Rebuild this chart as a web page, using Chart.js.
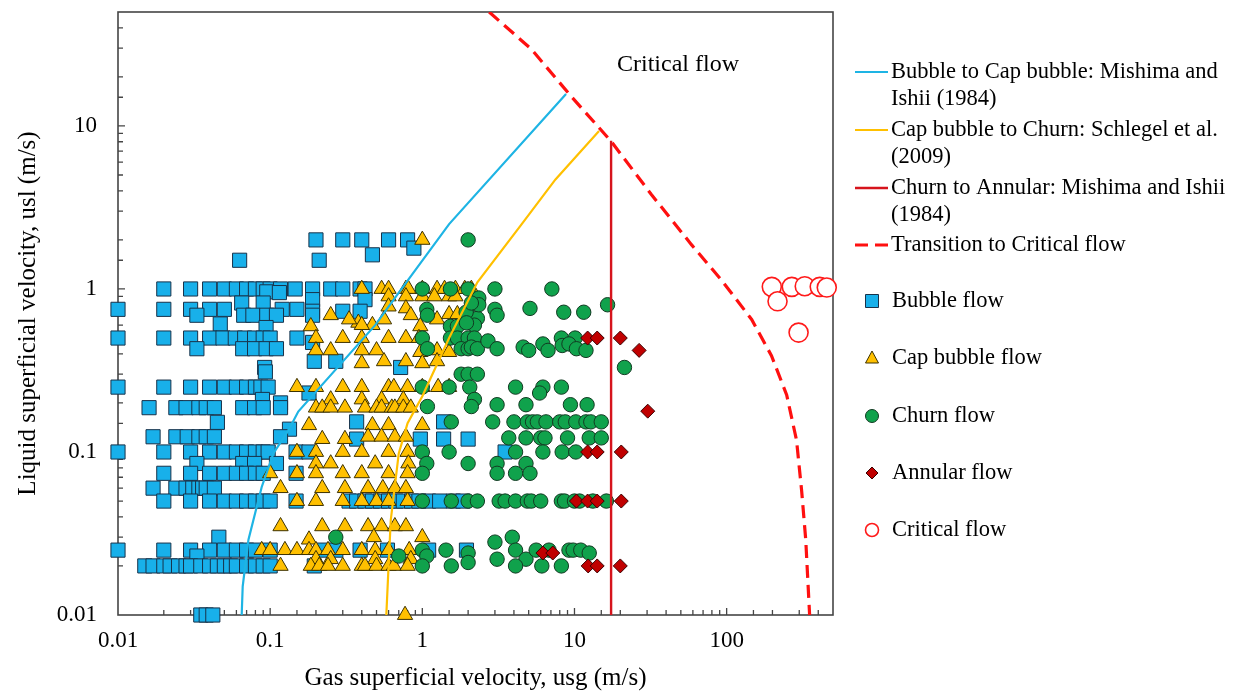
<!DOCTYPE html>
<html>
<head>
<meta charset="utf-8">
<script src="https://cdn.jsdelivr.net/npm/chart.js@4.4.0/dist/chart.umd.min.js"></script>
<style>
  html, body { margin: 0; padding: 0; background: #fff; }
  canvas { display: block; }
</style>
</head>
<body>
<canvas id="flowMap" width="1238" height="693"></canvas>
<script>
// observed flow regimes, [usg, usl] in m/s
const bubbleFlow = [
  [0.2,2],[0.3,2],[0.4,2],[0.6,2],[0.8,2],
  [0.063,1.5],[0.21,1.5],[0.47,1.62],[0.88,1.78],
  [0.02,1],[0.03,1],[0.04,1],[0.05,1],[0.06,1],[0.07,1],[0.08,1],[0.09,1],[0.1,1],[0.117,1],[0.146,1],[0.19,1],[0.25,1],[0.3,1],[0.39,1],[0.42,1],
  [0.095,0.96],[0.115,0.95],[0.19,0.86],[0.42,0.86],
  [0.01,0.75],[0.02,0.75],[0.03,0.75],[0.04,0.75],[0.05,0.75],[0.065,0.82],[0.09,0.82],[0.12,0.75],[0.15,0.75],[0.19,0.73],[0.3,0.73],[0.39,0.73],
  [0.033,0.69],[0.067,0.69],[0.077,0.69],[0.095,0.69],[0.11,0.69],[0.19,0.69],
  [0.047,0.61],[0.094,0.58],
  [0.01,0.5],[0.02,0.5],[0.03,0.5],[0.04,0.5],[0.049,0.5],[0.059,0.5],[0.068,0.5],[0.079,0.5],[0.09,0.5],[0.1,0.5],[0.15,0.5],[0.19,0.47],
  [0.033,0.43],[0.066,0.43],[0.079,0.43],[0.094,0.43],[0.11,0.43],
  [0.092,0.33],[0.093,0.31],[0.195,0.36],[0.27,0.36],[0.72,0.33],
  [0.01,0.25],[0.02,0.25],[0.03,0.25],[0.04,0.25],[0.05,0.25],[0.06,0.25],[0.07,0.25],[0.08,0.25],[0.087,0.25],[0.097,0.25],[0.18,0.23],
  [0.089,0.21],[0.117,0.2],
  [0.016,0.187],[0.024,0.187],[0.028,0.187],[0.034,0.187],[0.038,0.187],[0.043,0.187],[0.066,0.187],[0.079,0.187],[0.09,0.187],[0.117,0.187],
  [0.045,0.152],[0.134,0.138],[0.37,0.153],[1.38,0.153],
  [0.017,0.124],[0.024,0.124],[0.0285,0.124],[0.034,0.124],[0.038,0.124],[0.043,0.124],[0.117,0.124],[0.37,0.12],[0.97,0.12],[1.38,0.12],[2.0,0.12],
  [0.01,0.1],[0.02,0.1],[0.03,0.1],[0.04,0.1],[0.05,0.1],[0.06,0.1],[0.07,0.1],[0.08,0.1],[0.09,0.1],[0.097,0.1],[0.148,0.1],[0.18,0.1],[3.5,0.1],
  [0.033,0.085],[0.066,0.085],[0.079,0.085],[0.11,0.085],
  [0.02,0.074],[0.03,0.074],[0.04,0.074],[0.05,0.074],[0.06,0.074],[0.07,0.074],[0.08,0.074],[0.09,0.074],[0.148,0.074],
  [0.017,0.06],[0.024,0.06],[0.028,0.06],[0.031,0.06],[0.034,0.06],[0.036,0.06],[0.038,0.06],[0.043,0.06],
  [0.02,0.05],[0.03,0.05],[0.04,0.05],[0.05,0.05],[0.06,0.05],[0.07,0.05],[0.08,0.05],[0.09,0.05],[0.1,0.05],[0.148,0.05],
  [0.33,0.05],[0.37,0.05],[0.42,0.05],[0.47,0.05],[0.53,0.05],[0.6,0.05],[0.67,0.05],[0.75,0.05],[0.85,0.05],[0.95,0.05],[1.1,0.05],[1.3,0.05],[1.6,0.05],[1.85,0.05],
  [0.046,0.03],
  [0.01,0.025],[0.02,0.025],[0.03,0.025],[0.04,0.025],[0.05,0.025],[0.06,0.025],[0.07,0.025],[0.08,0.025],[0.033,0.023],[0.1,0.025],[0.22,0.025],[0.27,0.025],[0.39,0.025],[0.59,0.025],[1.1,0.025],[1.95,0.025],
  [0.015,0.02],[0.017,0.02],[0.02,0.02],[0.022,0.02],[0.025,0.02],[0.028,0.02],[0.03,0.02],[0.035,0.02],[0.04,0.02],[0.045,0.02],[0.05,0.02],[0.055,0.02],[0.06,0.02],[0.07,0.02],[0.08,0.02],[0.09,0.02],[0.1,0.02],[0.195,0.02],
  [0.035,0.01],[0.038,0.01],[0.042,0.01]
];

const capBubbleFlow = [
  [1.0,2.0],
  [0.4,1],[0.54,1],[0.6,1],[0.78,1],[0.81,1],[1.0,1],[1.25,1],[1.4,1],[1.65,1],[1.9,1],[2.1,1],
  [0.6,0.9],[0.78,0.9],[1.0,0.9],[1.2,0.9],[1.5,0.9],[1.65,0.9],
  [0.6,0.78],[0.78,0.76],[0.25,0.69],[0.84,0.69],[1.5,0.7],[1.7,0.7],[0.38,0.62],[0.47,0.6],[0.56,0.65],[0.97,0.59],[1.25,0.65],[0.185,0.59],[0.4,0.6],[0.33,0.65],
  [0.2,0.5],[0.3,0.5],[0.4,0.5],[0.6,0.5],[0.78,0.5],[0.95,0.5],
  [0.2,0.42],[0.25,0.42],[0.4,0.42],[0.5,0.42],[0.97,0.41],[1.25,0.42],[1.5,0.41],
  [0.4,0.35],[0.56,0.36],[0.78,0.36],[1.0,0.35],[1.25,0.36],
  [0.15,0.25],[0.2,0.25],[0.3,0.25],[0.4,0.25],[0.6,0.25],[0.65,0.25],[0.8,0.25],[1.0,0.25],[1.27,0.25],[1.5,0.25],
  [0.25,0.21],[0.4,0.21],[0.54,0.21],[0.75,0.21],
  [0.2,0.187],[0.22,0.187],[0.25,0.187],[0.31,0.187],[0.42,0.187],[0.5,0.187],[0.54,0.187],[0.63,0.187],[0.66,0.187],[0.75,0.187],[0.84,0.187],
  [0.18,0.146],[0.47,0.146],[0.6,0.146],[1.0,0.146],
  [0.22,0.12],[0.31,0.12],[0.44,0.124],[0.54,0.124],[0.66,0.124],[0.78,0.124],
  [0.15,0.1],[0.2,0.1],[0.3,0.1],[0.4,0.1],[0.6,0.1],[0.8,0.1],
  [0.2,0.085],[0.25,0.085],[0.49,0.085],[0.81,0.085],
  [0.1,0.074],[0.15,0.074],[0.2,0.074],[0.3,0.074],[0.4,0.074],[0.6,0.074],[0.8,0.074],
  [0.117,0.06],[0.22,0.06],[0.31,0.06],[0.44,0.06],[0.55,0.06],[0.66,0.06],[0.78,0.06],
  [0.15,0.05],[0.2,0.05],[0.3,0.05],[0.4,0.05],[0.5,0.05],[0.6,0.05],[0.8,0.05],
  [0.117,0.035],[0.22,0.035],[0.31,0.035],[0.44,0.035],[0.54,0.035],[0.66,0.035],[0.78,0.035],
  [0.18,0.029],[0.48,0.03],[1.0,0.03],
  [0.088,0.025],[0.1,0.025],[0.125,0.025],[0.15,0.025],[0.18,0.025],[0.2,0.025],[0.24,0.025],[0.3,0.025],[0.4,0.025],[0.49,0.025],[0.6,0.025],[0.82,0.025],
  [0.2,0.022],[0.25,0.022],[0.49,0.022],[0.84,0.022],
  [0.117,0.02],[0.185,0.02],[0.21,0.02],[0.24,0.02],[0.3,0.02],[0.4,0.02],[0.42,0.02],[0.5,0.02],[0.6,0.02],[0.65,0.02],[0.8,0.02],
  [0.77,0.01]
];

const churnFlow = [
  [2.0,2.0],
  [1.0,1],[1.53,1],[2.0,1],[3.0,1],[7.1,1],
  [2.2,0.84],[2.35,0.88],[1.07,0.75],[1.08,0.69],[2.0,0.69],[2.3,0.66],[2.35,0.8],[1.94,0.72],[2.1,0.82],[3.0,0.75],[3.1,0.69],
  [5.1,0.76],[8.5,0.72],[11.5,0.72],[16.5,0.8],[1.53,0.59],[1.7,0.59],[2.2,0.6],[1.95,0.62],
  [1.0,0.5],[1.53,0.5],[1.7,0.5],[2.0,0.5],[2.2,0.5],[8.2,0.5],[10.1,0.5],
  [1.08,0.43],[1.8,0.43],[2.0,0.43],[2.1,0.44],[2.3,0.43],[2.7,0.48],[3.1,0.43],[4.6,0.44],[5.0,0.42],[6.2,0.46],[6.7,0.42],[8.3,0.45],[9.2,0.46],[10.3,0.43],[11.9,0.42],
  [1.8,0.3],[2.0,0.3],[2.3,0.3],[21.3,0.33],
  [1.0,0.25],[1.5,0.25],[2.05,0.25],[4.1,0.25],[6.2,0.25],[8.2,0.25],[2.2,0.21],[5.9,0.23],
  [1.08,0.19],[2.1,0.19],[3.1,0.195],[4.8,0.195],[9.4,0.195],[12.1,0.195],
  [1.55,0.153],[2.9,0.153],[4.0,0.153],[4.9,0.153],[5.3,0.153],[5.7,0.153],[6.5,0.153],[8.0,0.153],[8.7,0.153],[10.2,0.153],[11.9,0.153],[12.8,0.153],[15,0.153],
  [3.7,0.122],[4.8,0.122],[6.0,0.122],[6.4,0.122],[9.0,0.122],[12.5,0.122],[15,0.122],
  [1.0,0.1],[1.5,0.1],[4.1,0.1],[6.2,0.1],[8.3,0.1],[10.2,0.1],
  [1.07,0.085],[2.0,0.085],[3.1,0.085],[4.8,0.085],
  [1.0,0.074],[3.1,0.074],[4.1,0.074],[5.1,0.074],
  [1.0,0.05],[1.55,0.05],[2.0,0.05],[2.3,0.05],[3.2,0.05],[3.5,0.05],[4.1,0.05],[4.9,0.05],[5.2,0.05],[6.0,0.05],[8.2,0.05],[8.6,0.05],[10,0.05],[10.8,0.05],[13.2,0.05],[16.2,0.05],
  [0.27,0.03],[0.7,0.023],[1.0,0.025],[1.07,0.023],[1.43,0.025],[2.0,0.024],[3.0,0.028],[3.1,0.022],[3.9,0.03],[4.1,0.025],[4.8,0.022],[5.6,0.025],[6.8,0.025],[9.2,0.025],[9.8,0.025],[11,0.025],[12.5,0.024],
  [1.0,0.02],[1.55,0.02],[2.0,0.021],[4.1,0.02],[6.1,0.02],[8.2,0.02]
];

const annularFlow = [
  [12.2,0.5],[14.1,0.5],[20.0,0.5],[26.6,0.42],[30.3,0.178],
  [12.2,0.1],[14.1,0.1],[20.3,0.1],
  [10.3,0.05],[12.2,0.05],[14.1,0.05],[20.3,0.05],
  [6.2,0.024],[7.2,0.024],[12.3,0.02],[14.1,0.02],[20.0,0.02]
];

const criticalFlow = [
  [198,1.03],[216,0.84],[268,1.03],[326,1.04],[409,1.03],[455,1.02],[297,0.54]
];

// transition boundaries, [usg, usl]
const bubbleToCap = [
  [0.065,0.01],[0.066,0.015],[0.072,0.029],[0.088,0.061],[0.105,0.098],[0.132,0.136],
  [0.153,0.177],[0.49,0.6],[0.73,1.0],[1.5,2.5],[8.8,15.7]
];
const capToChurn = [
  [0.58,0.01],[0.6,0.02],[0.62,0.038],[0.7,0.098],[0.8,0.15],[1.0,0.22],[1.5,0.5],
  [2.3,1.1],[4.5,2.5],[7.5,4.7],[14.5,9.3]
];
const churnToAnnular = [[17.4,0.01],[17.4,8.1]];
const toCritical = [
  [2.75,50],[5.2,29.6],[9.5,15.2],[17.4,8.05],[32,3.8],[58.7,1.87],[92,1.14],[146,0.65],
  [197,0.39],[248,0.224],[288,0.118],[311,0.058],[331,0.029],[351,0.01]
];

const xTickValues = [0.01, 0.1, 1, 10, 100];
const xTickLabels = ['0.01', '0.1', '1', '10', '100'];
const yTickValues = [0.01, 0.1, 1, 10];
const yTickLabels = ['0.01', '0.1', '1', '10'];

const lineLegend = [
  ['Bubble to Cap bubble: Mishima and', 'Ishii (1984)'],
  ['Cap bubble to Churn: Schlegel et al.', '(2009)'],
  ['Churn to Annular: Mishima and Ishii', '(1984)'],
  ['Transition to Critical flow']
];
const pointLegend = ['Bubble flow', 'Cap bubble flow', 'Churn flow', 'Annular flow', 'Critical flow'];

const SERIF = '"Liberation Serif", "Times New Roman", serif';
const pts = arr => arr.map(([x, y]) => ({x, y}));

function tickLabel(values, labels) {
  return function (v) {
    for (let i = 0; i < values.length; i++) {
      if (Math.abs(Math.log10(v) - Math.log10(values[i])) < 1e-6) return labels[i];
    }
    return '';
  };
}
const isDecade = v => Math.abs(Math.log10(v) - Math.round(Math.log10(v))) < 1e-6;

// box and inward tick marks, drawn under the markers
const frameAndTicks = {
  id: 'frameAndTicks',
  beforeDatasetsDraw(chart) {
    const {ctx, chartArea: a, scales: {x, y}} = chart;
    ctx.save();
    ctx.strokeStyle = '#454545';
    ctx.lineWidth = 1.3;
    ctx.beginPath();
    x.ticks.forEach(t => {
      const px = x.getPixelForValue(t.value);
      if (px <= a.left + 1 || px >= a.right - 1) return;
      const len = isDecade(t.value) ? 7 : 5;
      ctx.moveTo(px, a.bottom);
      ctx.lineTo(px, a.bottom - len);
    });
    y.ticks.forEach(t => {
      const py = y.getPixelForValue(t.value);
      if (py <= a.top + 1 || py >= a.bottom - 1) return;
      const len = isDecade(t.value) ? 7 : 5;
      ctx.moveTo(a.left, py);
      ctx.lineTo(a.left + len, py);
    });
    ctx.stroke();
    ctx.lineWidth = 1.6;
    ctx.strokeRect(a.left, a.top, a.right - a.left, a.bottom - a.top);
    ctx.restore();
  }
};

function marker(ctx, style, x, y, fill, stroke) {
  ctx.save();
  ctx.fillStyle = fill;
  ctx.strokeStyle = stroke;
  ctx.lineWidth = style === 'circleOpen' ? 1.6 : 1;
  ctx.beginPath();
  if (style === 'rect') {
    ctx.rect(x - 6.5, y - 6.5, 13, 13);
  } else if (style === 'triangle') {
    ctx.moveTo(x, y - 7);
    ctx.lineTo(x + 6.5, y + 5);
    ctx.lineTo(x - 6.5, y + 5);
    ctx.closePath();
  } else if (style === 'rectRot') {
    ctx.moveTo(x, y - 6);
    ctx.lineTo(x + 6, y);
    ctx.lineTo(x, y + 6);
    ctx.lineTo(x - 6, y);
    ctx.closePath();
  } else {
    ctx.arc(x, y, 6.5, 0, Math.PI * 2);
  }
  ctx.fill();
  ctx.stroke();
  ctx.restore();
}

const sideLegend = {
  id: 'sideLegend',
  afterDraw(chart) {
    const ctx = chart.ctx;
    const ds = chart.data.datasets;
    ctx.save();
    ctx.font = '22.5px ' + SERIF;
    ctx.fillStyle = '#000';
    ctx.textBaseline = 'middle';
    ctx.textAlign = 'left';

    const rows = [72, 130, 188, 245];
    lineLegend.forEach((lines, i) => {
      const d = ds[i];
      ctx.save();
      ctx.strokeStyle = d.borderColor;
      ctx.lineWidth = d.borderWidth;
      ctx.setLineDash(d.borderDash || []);
      ctx.beginPath();
      ctx.moveTo(855, rows[i]);
      ctx.lineTo(888, rows[i]);
      ctx.stroke();
      ctx.restore();
      lines.forEach((t, k) => ctx.fillText(t, 891, rows[i] + k * 27));
    });

    const prow = [301, 358, 416, 473, 530];
    const styles = ['rect', 'triangle', 'circle', 'rectRot', 'circleOpen'];
    pointLegend.forEach((t, i) => {
      const d = ds[8 - i];
      marker(ctx, styles[i], 872, prow[i], d.backgroundColor, d.borderColor);
      ctx.fillText(t, 892, prow[i]);
    });

    // region label inside the plot
    ctx.font = '24px ' + SERIF;
    ctx.textAlign = 'center';
    ctx.fillText('Critical flow', 678, 65);
    ctx.restore();
  }
};

const lineSet = (label, data, color, width, dash) => ({
  type: 'line', label, data: pts(data), borderColor: color, backgroundColor: color,
  borderWidth: width, borderDash: dash, pointRadius: 0, showLine: true, fill: false, tension: 0
});
const pointSet = (label, data, style, r, fill, stroke, bw) => ({
  label, data: pts(data), pointStyle: style, pointRadius: r, pointHoverRadius: r,
  backgroundColor: fill, borderColor: stroke, pointBorderWidth: bw, clip: false
});

new Chart(document.getElementById('flowMap'), {
  type: 'scatter',
  data: {
    datasets: [
      lineSet('Bubble to Cap bubble: Mishima and Ishii (1984)', bubbleToCap, '#1eb4e4', 2.2),
      lineSet('Cap bubble to Churn: Schlegel et al. (2009)', capToChurn, '#ffc000', 2.2),
      lineSet('Churn to Annular: Mishima and Ishii (1984)', churnToAnnular, '#d6141c', 2.4),
      lineSet('Transition to Critical flow', toCritical, '#ff1010', 3.2, [13, 7]),
      pointSet('Critical flow', criticalFlow, 'circle', 9.5, '#ffffff', '#ff1a1a', 1.6),
      pointSet('Annular flow', annularFlow, 'rectRot', 7, '#c00000', '#3a0000', 1),
      pointSet('Churn flow', churnFlow, 'circle', 7.2, '#10a24c', '#123a22', 1),
      pointSet('Cap bubble flow', capBubbleFlow, 'triangle', 8.8, '#ffc000', '#3d3200', 1),
      pointSet('Bubble flow', bubbleFlow, 'rect', 10, '#18b0ea', '#18324a', 1)
    ]
  },
  options: {
    responsive: false,
    animation: false,
    layout: { padding: { left: 0, top: 12, right: 405, bottom: 0 } },
    plugins: { legend: { display: false }, tooltip: { enabled: false } },
    scales: {
      x: {
        type: 'logarithmic', min: 0.01, max: 500,
        afterFit: s => { s.height = 78; },
        grid: { display: false, drawTicks: false },
        border: { display: false },
        ticks: {
          autoSkip: false, maxRotation: 0, padding: 12, color: '#000',
          font: { family: SERIF, size: 23 },
          callback: tickLabel(xTickValues, xTickLabels)
        },
        title: {
          display: true, text: 'Gas superficial velocity, usg (m/s)', color: '#000',
          font: { family: SERIF, size: 25 }, padding: { top: 0, bottom: 0 }
        }
      },
      y: {
        type: 'logarithmic', min: 0.01, max: 50,
        afterFit: s => { s.width = 118; s.paddingTop = 0; s.paddingBottom = 0; },
        grid: { display: false, drawTicks: false },
        border: { display: false },
        ticks: {
          autoSkip: false, padding: 21, color: '#000',
          font: { family: SERIF, size: 23 },
          callback: tickLabel(yTickValues, yTickLabels)
        },
        title: {
          display: true, text: 'Liquid superficial velocity, usl (m/s)', color: '#000',
          font: { family: SERIF, size: 25 }, padding: { top: 13, bottom: 0 }
        }
      }
    }
  },
  plugins: [frameAndTicks, sideLegend]
});
</script>
</body>
</html>
